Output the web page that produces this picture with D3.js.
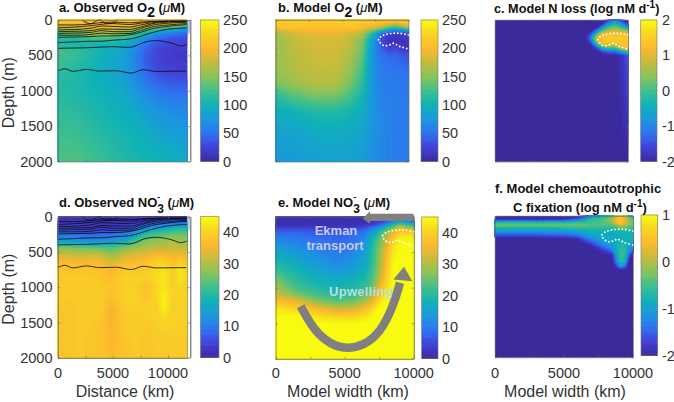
<!DOCTYPE html>
<html><head><meta charset="utf-8">
<script src="https://cdn.jsdelivr.net/npm/d3@7/dist/d3.min.js"></script>
<style>
html,body{margin:0;padding:0;background:#fff}
svg{display:block}
text{font-family:"Liberation Sans",Arial,sans-serif;fill:#333}
</style></head><body>
<svg id="fig" width="674" height="402"></svg>
<script>
// ---------- colour map stops
const parulaStops = ["#3a2a9c","#4340d8","#2f72f0","#1a98de","#10b2b6","#3ebf8e","#86c35c","#c4bc3c","#fdb82e","#f8d424","#f8fa10"];

// ---------- shared contour lines (panels a, d)
const contourKm = [0,1500,3000,4000,5000,6500,7500,8500,10000,11700];
const contourLines = [
 [320,310,300,300,285,270,230,180,130,110],
 [245,240,235,225,225,210,175,125,90,65],
 [215,215,205,185,195,190,150,100,70,50],
 [190,185,175,150,165,165,120,75,45,30],
 [165,160,150,125,130,135,100,55,30,25],
 [140,135,115,85,90,100,70,40,20,20],
 [110,100,80,60,50,65,45,25,15,10],
 [70,70,55,35,30,40,30,20,12,8]
];
const line400Km = [0,2700,5000,6500,8000,8900,10200,11200,11700];
const line400Depth = [400,392,377,387,307,292,321,368,344];
const line720Km = [0,606,1364,2576,3788,5300,6666,7727,8940,11666];
const line720Depth = [722,689,726,698,722,717,750,703,726,722];
const topLoopKm = [2200,2600,3000,3400,3800,4200,4600,5000,5400];
const topLoopDepth = [0,40,50,20,0,40,50,45,0];

// ---------- dotted OMZ outline (panels b, c, e, f)
const omzKm = [10000,9372,8870,8367,7990,7739,7864,8166,8568,8870,9372,10000];
const omzDepth = [212,188,188,202,226,273,320,362,353,329,376,409];

// ---------- panel a
const obsO2Km = [0,1500,3000,4500,6000,7000,8000,9000,10000,11000,11700];
const obsO2Depth = [0,40,80,120,170,220,280,350,400,450,550,700,850,1000,1200,1500,1800,2000];
const obsO2 = [
 [212,212,212,212,212,212,212,212,210,205,200],
 [205,205,210,210,210,205,205,200,195,190,175],
 [185,190,200,200,195,190,185,170,160,150,125],
 [165,170,185,185,180,170,150,130,110,95,85],
 [145,150,165,170,155,140,110,85,70,60,55],
 [125,130,145,150,135,115,85,60,50,42,40],
 [110,110,120,120,110,90,65,45,35,30,28],
 [110,108,105,105,95,75,50,35,28,25,25],
 [125,118,108,100,88,68,45,30,24,22,22],
 [130,122,110,100,85,65,42,28,22,20,20],
 [128,120,108,95,82,62,40,27,22,20,20],
 [120,113,105,92,82,65,45,30,25,24,24],
 [115,110,102,95,85,70,52,42,36,35,35],
 [114,110,104,98,90,78,65,55,50,48,48],
 [117,114,108,102,95,88,78,70,65,62,62],
 [124,122,115,108,102,98,92,85,80,78,76],
 [128,129,122,115,108,104,100,96,92,90,88],
 [130,133,127,119,112,108,105,102,98,96,94]
];

// ---------- panel b
const modelKm = [0,1500,3000,4500,5500,6500,7000,7500,8000,8500,9000,9500,10000];
const modO2Depth = [0,50,100,150,200,300,400,500,700,900,1100,1300,1600,2000];
const modO2 = [
 [218,218,218,218,218,218,218,218,218,218,215,218,225],
 [215,215,215,215,215,212,210,205,200,195,175,200,210],
 [210,212,212,212,212,205,195,185,165,135,120,140,170],
 [175,198,202,202,198,185,160,130,90,70,55,60,70],
 [162,184,190,190,184,165,130,90,40,20,18,18,25],
 [158,176,184,184,176,148,105,65,30,12,10,12,15],
 [158,174,182,182,174,145,100,65,40,25,30,18,12],
 [160,172,180,180,170,138,95,65,50,45,45,40,35],
 [158,170,176,175,160,128,92,68,58,55,55,52,50],
 [146,160,170,168,150,118,90,68,60,58,58,55,55],
 [115,132,142,142,128,105,85,70,62,60,58,58,58],
 [97,102,110,112,106,96,83,71,65,62,60,58,58],
 [85,88,93,95,93,87,79,71,66,62,60,58,58],
 [76,79,84,86,85,81,74,69,66,62,60,58,58]
];

// ---------- panel c
const nLossKm = [0,6800,7200,7700,8100,8500,9000,9500,10000];
const nLossDepth = [0,50,100,150,200,250,300,350,400,450,500,2000];
const nLoss = [
 [-2,-2,-2,-2,-2,-1.8,-1.2,-1.8,-2],
 [-2,-2,-2,-2,-1.9,-1.0,-0.3,-1.0,-1.9],
 [-2,-2,-2,-2,-1.0,-0.2,0.3,-0.2,-0.9],
 [-2,-2,-2,-1,0,0.6,0.8,0.6,0.2],
 [-2,-2,-1.6,0.2,1.2,1.4,1.4,1.4,1.3],
 [-2,-2,-1.1,0.9,1.4,1.5,1.5,1.5,1.4],
 [-2,-2,-1.4,0.8,1.4,1.5,1.4,1.5,1.4],
 [-2,-2,-2,-0.3,0.8,1.0,0.9,1.3,1.4],
 [-2,-2,-2,-1.5,-0.5,-0.2,-0.3,0.6,1.2],
 [-2,-2,-2,-2,-1.6,-1.4,-1.3,-0.8,-0.2],
 [-2,-2,-2,-2,-2,-2,-2,-1.8,-1.4],
 [-2,-2,-2,-2,-2,-2,-2,-2,-2]
];

// ---------- panel d
const obsNKm = [0,1000,2000,3000,4000,4800,6000,7000,8000,9000,9600,10500,11100,11700];
const obsNDepth = [0,40,80,120,170,220,280,350,400,450,550,700,850,1000,1150,1300,1500,1800,2000];
const obsN = [
 [1,1,1,1,1,1,1,1,2,3,3,3,3,3],
 [2,2,2,2,2,2,2,3,4,4,5,5,5,5],
 [3,3,3,3,3,3,3,4,6,7,8,9,9,9],
 [4,4,4,4,3,3,4,6,9,11,12,13,14,14],
 [6,6,5,5,5,5,6,9,13,15,17,19,20,20],
 [8,8,7,6,7,7,9,13,18,21,22,23,24,24],
 [11,11,10,9,10,10,12,17,23,25,26,27,27,27],
 [15,15,14,13,14,14,17,23,27,28,29,30,29,29],
 [22,21,20,19,19,19,22,26,29,30,30,31,30,30],
 [28,27,26,26,25,24,27,29,31,32,32,32,32,32],
 [33,33,32,33,32,29,32,34,35,37,37,35,36,35],
 [38,38,37,38,37,35,38,38,39,41,42,39,42,40],
 [39,39,39,39,38,37,40,40,40,42,43,40,43,41],
 [39,39,39,39,39,38,40,40,37,41,43,40,41,40],
 [39,39,39,39,39,37,40,41,38,41,44,40,40,40],
 [38,38,39,39,39,35,39,40,40,40,44,40,40,40],
 [38,38,39,39,38,35,39,39,39,40,41,40,40,40],
 [38,38,39,38,38,36,38,39,38,39,39,39,39,39],
 [38,38,39,38,38,37,38,39,38,39,39,39,39,39]
];

// ---------- panel e
const modNDepth = [0,60,120,170,220,300,400,500,700,900,1000,1100,1200,1300,1400,1500,2000];
const modN = [
 [1,1,1,1,1,1,1,1,1,1,1,1,1],
 [1,1,1,1,1,1,2,3,4,8,14,8,6],
 [2,2,2,2,2,3,5,8,14,20,26,22,20],
 [5,5,5,4,5,7,11,15,21,28,36,32,30],
 [8,8,7,7,8,10,15,20,27,34,40,40,40],
 [11,10,9,8,9,12,18,24,31,38,44,44,44],
 [14,12,10,9,10,14,20,26,33,41,45,45,45],
 [16,14,12,10,11,15,21,27,35,43,45,45,45],
 [21,18,15,13,14,17,22,28,37,45,45,45,45],
 [27,21,18,17,18,20,24,31,40,45,45,45,45],
 [29,23,20,19,20,22,26,34,42,45,45,45,45],
 [32,27,23,21,22,25,30,38,44,45,45,45,45],
 [38,35,28,25,26,30,35,42,45,45,45,45,45],
 [43,41,36,32,33,37,41,45,45,45,45,45,45],
 [45,45,42,40,40,42,45,45,45,45,45,45,45],
 [45,45,45,45,45,45,45,45,45,45,45,45,45],
 [45,45,45,45,45,45,45,45,45,45,45,45,45]
];

// ---------- panel f
const cFixKm = [0,3000,5000,6000,6500,7000,7500,8000,8500,8800,9100,9400,9700,10000];
const cFixDepth = [0,50,100,130,170,220,270,320,400,470,550,650,720,760,2000];
const cFix = [
 [-2,-2,-2,-2,-1.8,-1.2,-1,-0.8,-0.4,0.3,0.5,0.2,-0.4,-0.6],
 [-1.9,-1.9,-1.9,-1.5,-1,-0.6,-0.5,-0.3,0,0.4,0.6,0.3,-0.2,-0.4],
 [-0.6,-0.6,-0.6,-0.5,-0.5,-0.5,-0.5,-0.4,-0.2,0.3,0.6,0.3,-0.1,-0.2],
 [-0.3,-0.3,-0.3,-0.3,-0.3,-0.4,-0.4,-0.4,-0.4,-0.2,0.1,0,-0.3,-0.3],
 [-0.7,-0.8,-0.7,-0.6,-0.6,-0.6,-0.6,-0.6,-0.6,-0.5,-0.4,-0.4,-0.5,-0.5],
 [-1.1,-1.1,-1.1,-1,-0.9,-0.8,-0.8,-0.8,-0.8,-0.8,-0.7,-0.7,-0.7,-0.7],
 [-1.6,-1.6,-1.5,-1.3,-1.1,-1,-0.9,-0.9,-0.9,-0.9,-0.8,-0.8,-0.8,-0.8],
 [-2,-2,-2,-1.9,-1.5,-1.2,-1,-0.9,-0.9,-0.8,-0.8,-0.8,-0.8,-0.8],
 [-2,-2,-2,-2,-2,-1.8,-1.4,-1.1,-1,-0.8,-0.7,-0.7,-0.9,-1],
 [-2,-2,-2,-2,-2,-2,-1.9,-1.6,-1.2,-0.8,-0.6,-0.6,-1.1,-1.4],
 [-2,-2,-2,-2,-2,-2,-2,-2,-1.9,-1,-0.5,-0.6,-1.5,-2],
 [-2,-2,-2,-2,-2,-2,-2,-2,-2,-1.3,-0.6,-0.8,-2,-2],
 [-2,-2,-2,-2,-2,-2,-2,-2,-2,-1.8,-1.2,-1.5,-2,-2],
 [-2,-2,-2,-2,-2,-2,-2,-2,-2,-2,-2,-2,-2,-2],
 [-2,-2,-2,-2,-2,-2,-2,-2,-2,-2,-2,-2,-2,-2]
];

// ---------- annotations in panel e
const upwellKm = [1810,2730,3940,5145,6350,7560,8527,9010];
const upwellDepth = [1260,1590,1800,1865,1815,1640,1260,930];
const upHeadKm = [8527,9300,9900];
const upHeadDepth = [885,706,908];
const ekmanBarKm = [10000,6835];
const ekmanBarDepth = [-42,61];
const ekmanHeadKm = [6835,6300,6835];
const ekmanHeadDepth = [-80,28,99];

// ---------- tick labels
const depthTicks = [0,500,1000,1500,2000];
const obsKmTicks = [0,2500,5000,7500,10000];
const modelKmTicks = [0,2500,5000,7500,10000];
const labelledKm = [0,5000,10000];
const o2BarTicks = [0,50,100,150,200,250];
const nBarTicks = [0,10,20,30,40];
const logCTicks = [-2,-1,0,1,2];
const logFTicks = [-2,-1,0,1];

// ---------- drawing
const svg = d3.select("#fig");
const parula = d3.scaleLinear().domain(parulaStops.map((_,i)=>i/(parulaStops.length-1))).range(parulaStops);

function edgeScale(vals, r){
  const n = vals.length, dom=[0], rng=[r(vals[0])];
  vals.forEach((v,i)=>{dom.push(i+.5); rng.push(r(v));});
  dom.push(n); rng.push(r(vals[n-1]));
  return d3.scaleLinear().domain(dom).range(rng);
}

function heat(g, grid, kms, depths, x, y, c, dom){
  const nx=kms.length, ny=depths.length;
  const fx=edgeScale(kms,x), fy=edgeScale(depths,y);
  const flat=grid.flat();
  const ths=d3.range(0,96).map(i=>dom[0]+(dom[1]-dom[0])*i/95);
  const contours=d3.contours().size([nx,ny]).smooth(true).thresholds(ths)(flat.map(v=>Math.max(dom[0],Math.min(dom[1],v))));
  const proj=d3.geoTransform({point(px,py){this.stream.point(fx(px),fy(py));}});
  const path=d3.geoPath(proj);
  g.selectAll("path.cell").data(contours).join("path").attr("class","cell")
    .attr("d",path).attr("fill",d=>c(d.value)).attr("stroke",d=>c(d.value)).attr("stroke-width",.3);
}

function frame(g, p){
  const ax=(sel)=>{sel.selectAll("path,line").attr("stroke","#666").attr("stroke-width",.6);sel.selectAll("text").remove();};
  g.append("g").attr("transform",`translate(0,${p.y.range()[1]})`).call(d3.axisBottom(p.x).tickValues(p.xt).tickSizeInner(-2).tickSizeOuter(0)).call(ax);
  g.append("g").attr("transform",`translate(0,${p.y.range()[0]})`).call(d3.axisTop(p.x).tickValues(p.xt).tickSizeInner(-2).tickSizeOuter(0)).call(ax);
  g.append("g").attr("transform",`translate(${p.x.range()[0]},0)`).call(d3.axisLeft(p.y).tickValues(depthTicks).tickSizeInner(-2).tickSizeOuter(0)).call(ax);
  g.append("g").attr("transform",`translate(${p.x.range()[1]},0)`).call(d3.axisRight(p.y).tickValues(depthTicks).tickSizeInner(-2).tickSizeOuter(0)).call(ax);
}

function colorbar(g, b, dom, ticks, tickX){
  const sc=d3.scaleLinear().domain(dom).range([b.y1,b.y0]);
  const steps=d3.range(0,64).map(i=>i/64);
  g.selectAll("rect.bar").data(steps).join("rect").attr("class","bar")
    .attr("x",b.x0).attr("width",b.x1-b.x0)
    .attr("y",d=>b.y1-(d+1/64)*(b.y1-b.y0)-.3).attr("height",(b.y1-b.y0)/64+.6)
    .attr("fill",d=>parula(d+1/128));
  g.append("rect").attr("x",b.x0).attr("y",b.y0).attr("width",b.x1-b.x0).attr("height",b.y1-b.y0)
    .attr("fill","none").attr("stroke","#777").attr("stroke-width",.6);
  g.selectAll("text.cb").data(ticks).join("text").attr("class","cb")
    .attr("x",tickX).attr("y",d=>sc(d)).attr("dy",".35em").attr("font-size",14.5).text(d=>d);
}

function dotted(g,x,y){
  g.append("path").datum(d3.zip(omzKm,omzDepth))
    .attr("d",d3.line().x(d=>x(d[0])).y(d=>y(d[1])).curve(d3.curveCatmullRom))
    .attr("fill","none").attr("stroke","#fff").attr("stroke-width",1.9)
    .attr("stroke-linecap","round").attr("stroke-dasharray","0 3.6");
}

function isolines(g,x,y){
  const ln=d3.line().x(d=>x(d[0])).y(d=>y(d[1])).curve(d3.curveMonotoneX);
  const sets=[...contourLines.map(l=>d3.zip(contourKm,l)), d3.zip(line400Km,line400Depth), d3.zip(line720Km,line720Depth), d3.zip(topLoopKm,topLoopDepth)];
  g.selectAll("path.iso").data(sets).join("path").attr("class","iso").attr("d",ln)
    .attr("fill","none").attr("stroke","#0a0a0a").attr("stroke-width",.8);
}

function title(x, y, parts, size){
  const t=svg.append("text").attr("x",x).attr("y",y).attr("font-size",size||13).attr("font-weight","bold").style("fill","#111");
  parts.forEach(p=>{
    const s=t.append("tspan").text(p.t);
    if(p.dy) s.attr("dy",p.dy);
    if(p.dx) s.attr("dx",p.dx);
    if(p.fs) s.attr("font-size",p.fs);
    if(p.it) s.attr("font-style","italic").attr("font-weight","normal");
  });
}

const xObs=(a,b)=>d3.scaleLinear().domain([0,12000]).range([a,b]);
const panels={
 a:{x:xObs(58,190),y:d3.scaleLinear().domain([0,2000]).range([20,161.5]),xt:obsKmTicks,
    bar:{x0:200.5,x1:219,y0:20,y1:161.5},dom:[0,250],ticks:o2BarTicks,tx:223,grid:obsO2,km:obsO2Km,dp:obsO2Depth},
 b:{x:d3.scaleLinear().domain([0,10000]).range([275.7,408.5]),y:d3.scaleLinear().domain([0,2000]).range([20,161.5]),xt:modelKmTicks,
    bar:{x0:421,x1:438,y0:20,y1:161.5},dom:[0,250],ticks:o2BarTicks,tx:442,grid:modO2,km:modelKm,dp:modO2Depth},
 c:{x:d3.scaleLinear().domain([0,10000]).range([495,628]),y:d3.scaleLinear().domain([0,2000]).range([20,161.5]),xt:modelKmTicks,
    bar:{x0:640.7,x1:657,y0:20,y1:161.5},dom:[-2,2],ticks:logCTicks,tx:662,grid:nLoss,km:nLossKm,dp:nLossDepth},
 d:{x:xObs(58,190),y:d3.scaleLinear().domain([0,2000]).range([216.7,357.7]),xt:obsKmTicks,
    bar:{x0:200.5,x1:219,y0:216.7,y1:357.7},dom:[0,45],ticks:nBarTicks,tx:223,grid:obsN,km:obsNKm,dp:obsNDepth},
 e:{x:d3.scaleLinear().domain([0,10000]).range([275.7,413.7]),y:d3.scaleLinear().domain([0,2000]).range([216.7,358.7]),xt:modelKmTicks,
    bar:{x0:421.7,x1:438,y0:217,y1:358.7},dom:[0,45],ticks:nBarTicks,tx:442,grid:modN,km:modelKm,dp:modNDepth},
 f:{x:d3.scaleLinear().domain([0,10000]).range([495,633]),y:d3.scaleLinear().domain([0,2000]).range([216,357.3]),xt:modelKmTicks,
    bar:{x0:641,x1:657.7,y0:215,y1:355.7},dom:[-2,1],ticks:logFTicks,tx:662,grid:cFix,km:cFixKm,dp:cFixDepth}
};

Object.entries(panels).forEach(([k,p])=>{
  const g=svg.append("g").attr("id","panel-"+k);
  const c=d3.scaleLinear().domain(p.dom).range([0,1]);
  const col=v=>parula(c(v));
  g.append("rect").attr("x",p.x(p.km[0])).attr("y",p.y(0)).attr("width",p.x(p.km[p.km.length-1])-p.x(p.km[0])).attr("height",p.y(2000)-p.y(0)).attr("fill",col(p.dom[0]));
  heat(g,p.grid,p.km,p.dp,p.x,p.y,col,p.dom);
  if(k==="a"||k==="d"){
    isolines(g,p.x,p.y);
    g.append("rect").attr("x",p.x(11800)).attr("width",p.x(12000)-p.x(11800)).attr("y",p.y(0)).attr("height",p.y(190)-p.y(0))
      .attr("fill",k==="a"?"#b9b8f0":"#a8d8e0");
    g.append("line").attr("x1",p.x(12000)+1).attr("x2",p.x(12000)+1).attr("y1",p.y(0)).attr("y2",p.y(2000)).attr("stroke","#bbb").attr("stroke-width",1.6);
  } else dotted(g,p.x,p.y);
  frame(g,p);
  colorbar(g,p.bar,p.dom,p.ticks,p.tx);
});

// y tick labels and y titles
["a","d"].forEach(k=>{
  const p=panels[k];
  svg.append("g").selectAll("text").data(depthTicks).join("text").attr("x",52.5).attr("y",d=>p.y(d)).attr("dy",".35em")
    .attr("text-anchor","end").attr("font-size",14.5).text(d=>d);
  const cy=(p.y(0)+p.y(2000))/2+2;
  svg.append("text").attr("transform",`translate(14,${cy}) rotate(-90)`).attr("text-anchor","middle").attr("font-size",16).text("Depth (m)");
});

// x tick labels and x titles
[["d","Distance (km)",125],["e","Model width (km)",348],["f","Model width (km)",565]].forEach(([k,label,cx])=>{
  const p=panels[k];
  svg.append("g").selectAll("text").data(labelledKm).join("text").attr("x",d=>p.x(d)).attr("y",378)
    .attr("text-anchor","middle").attr("font-size",14.5).text(d=>d);
  svg.append("text").attr("x",cx).attr("y",397).attr("text-anchor","middle").attr("font-size",16).text(label);
});

// titles
const sub=(t,dn)=>({t,dy:dn,fs:14});
title(59,12,[{t:"a. Observed O"},sub("2",5),{t:" (",dy:-5},{t:"\u03bc",it:true},{t:"M)"}]);
title(278,12,[{t:"b. Model O"},sub("2",5),{t:" (",dy:-5},{t:"\u03bc",it:true},{t:"M)"}]);
title(494,13,[{t:"c. Model N loss (log nM d"},{t:"-1",dy:-5,fs:10},{t:")",dy:5}],12.7);
title(59,207,[{t:"d. Observed NO"},{t:"-",dy:-7,fs:9},{t:"3",dx:-3,dy:13,fs:12},{t:" (",dy:-6},{t:"\u03bc",it:true},{t:"M)"}]);
title(278,207,[{t:"e. Model NO"},{t:"-",dy:-7,fs:9},{t:"3",dx:-3,dy:13,fs:12},{t:" (",dy:-6},{t:"\u03bc",it:true},{t:"M)"}]);
title(495,193,[{t:"f. Model chemoautotrophic"}]);
title(513,212,[{t:"C fixation (log nM d"},{t:"-1",dy:-5,fs:10},{t:")",dy:5}]);

// arrows and labels in panel e
{
  const p=panels.e, g=svg.append("g").attr("id","annotations");
  const gray="#808080";
  g.append("path").datum(d3.zip(upwellKm,upwellDepth))
    .attr("d",d3.line().x(d=>p.x(d[0])).y(d=>p.y(d[1])).curve(d3.curveBasis))
    .attr("fill","none").attr("stroke",gray).attr("stroke-width",8.5);
  const poly=d3.line().x(d=>p.x(d[0])).y(d=>p.y(d[1])).curve(d3.curveLinearClosed);
  g.append("path").datum(d3.zip(upHeadKm,upHeadDepth)).attr("d",poly).attr("fill",gray);
  g.append("rect").attr("x",p.x(ekmanBarKm[1])).attr("width",p.x(ekmanBarKm[0])-p.x(ekmanBarKm[1]))
    .attr("y",p.y(ekmanBarDepth[0])).attr("height",p.y(ekmanBarDepth[1])-p.y(ekmanBarDepth[0])).attr("fill",gray);
  g.append("path").datum(d3.zip(ekmanHeadKm,ekmanHeadDepth)).attr("d",poly).attr("fill",gray);
  const lab=(t,x,y,c)=>g.append("text").attr("x",x).attr("y",y).attr("text-anchor","middle").attr("font-size",13)
    .attr("font-weight","bold").style("fill",c).text(t);
  lab("Ekman",336,235,"#c6c8f2");
  lab("transport",335,250,"#c6c8f2");
  lab("Upwelling",361,296,"#b5dfe0").style("letter-spacing",".3px");
}
</script>
</body></html>
